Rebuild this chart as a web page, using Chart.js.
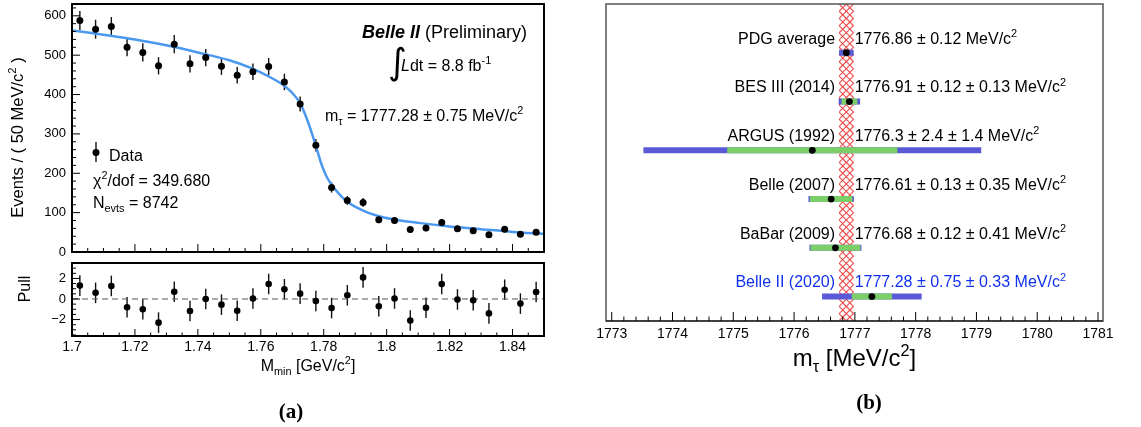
<!DOCTYPE html>
<html><head><meta charset="utf-8">
<script src="https://cdn.jsdelivr.net/npm/chart.js@4.4.0/dist/chart.umd.min.js"></script>
<style>
html,body{margin:0;padding:0;background:#fff;width:1141px;height:427px;overflow:hidden;}
canvas{position:absolute;}
</style></head><body>
<canvas id="cMain" width="560" height="258" style="left:0;top:0;width:560px;height:258px"></canvas>
<canvas id="cPull" width="560" height="169" style="left:0;top:258px;width:560px;height:169px"></canvas>
<canvas id="cRight" width="581" height="427" style="left:560px;top:0;width:581px;height:427px"></canvas>
<script>
// ---------- Data: panel (a) ----------
const binCenters = [1.7025,1.7075,1.7125,1.7175,1.7225,1.7275,1.7325,1.7375,1.7425,1.7475,
  1.7525,1.7575,1.7625,1.7675,1.7725,1.7775,1.7825,1.7875,1.7925,1.7975,
  1.8025,1.8075,1.8125,1.8175,1.8225,1.8275,1.8325,1.8375,1.8425,1.8475];
const counts = [588,566,573,520,507,473,528,478,494,472,449,458,471,432,376,271,164,131,126,82,
  80,57,61,75,59,54,44,58,45,50];
const countErr = [24,24,24,23,23,22,23,22,22,22,21,21,22,21,19,16,13,11,11,9,9,8,8,9,8,7,7,8,7,7];
const fitX = [1.700,1.710,1.720,1.730,1.740,1.750,1.757,1.762,1.767,1.770,1.7725,1.7745,1.7765,1.778,
  1.7795,1.781,1.783,1.787,1.792,1.797,1.802,1.810,1.820,1.830,1.840,1.850];
const fitY = [563,552,540,525,507,487,467,448,425,404,378,341,295,256,218,190,166,131,107,92,83,74,65,58,51,46];
const pulls = [1.3,0.6,1.27,-0.8,-1.0,-2.3,0.7,-1.17,0.0,-0.55,-1.14,0.05,1.46,0.94,0.52,-0.2,-0.88,0.36,2.1,-0.7,
  0.05,-2.1,-0.85,1.45,-0.05,-0.13,-1.4,0.9,-0.45,0.68];
const PULL_ERR = 1;
const mainYTicks = [0,100,200,300,400,500,600];
const pullYTicks = [-2,0,2];
const massTicks = [1.7,1.72,1.74,1.76,1.78,1.8,1.82,1.84];

// ---------- Data: panel (b) ----------
const names = ['PDG average','BES III (2014)','ARGUS (1992)','Belle (2007)','BaBar (2009)','Belle II (2020)'];
const values = [1776.86,1776.91,1776.3,1776.61,1776.68,1777.28];
const statErr = [0.12,0.12,2.4,0.13,0.12,0.75];
const systErr = [null,0.13,1.4,0.35,0.41,0.33];
const mtauTicks = [1773,1774,1775,1776,1777,1778,1779,1780,1781];

// ---------- helpers ----------
const FAM = '"Liberation Sans", Arial, Helvetica, sans-serif';
Chart.defaults.font.family = FAM;
Chart.defaults.color = '#000';
function rich(ctx, segs, x, y, size, align, color) {
  const parts = segs.map(([t, m]) => {
    let fs = size, dy = 0, style = '';
    if (m === 'sup') { fs = size * 0.68; dy = -size * 0.42; }
    if (m === 'sub') { fs = size * 0.68; dy = size * 0.24; }
    if (m === 'bi') style = 'italic bold ';
    if (m === 'i') style = 'italic ';
    const font = style + fs.toFixed(1) + 'px ' + FAM;
    ctx.font = font;
    return { t, font, dy, w: ctx.measureText(t).width };
  });
  const total = parts.reduce((a, p) => a + p.w, 0);
  let cx = align === 'right' ? x - total : align === 'center' ? x - total / 2 : x;
  ctx.fillStyle = color || '#000'; ctx.textBaseline = 'alphabetic'; ctx.textAlign = 'left';
  for (const p of parts) { ctx.font = p.font; ctx.fillText(p.t, cx, y + p.dy); cx += p.w; }
}
function line(ctx, x1, y1, x2, y2) { ctx.beginPath(); ctx.moveTo(x1, y1); ctx.lineTo(x2, y2); ctx.stroke(); }
const fmt = v => (v < 0 ? '\u2212' + Math.abs(v) : String(v));
const noPad = s => { s.paddingTop = 0; s.paddingBottom = 0; s.paddingLeft = 0; s.paddingRight = 0; };
const common = {
  responsive: false, animation: false, devicePixelRatio: 1, events: [],
  plugins: { legend: { display: false }, tooltip: { enabled: false } }
};

// ---------- Chart (a) main ----------
new Chart(document.getElementById('cMain'), {
  type: 'line',
  data: { datasets: [
    { data: binCenters.map((x, i) => ({ x, y: counts[i] })), showLine: false, pointRadius: 3.5,
      pointBackgroundColor: '#000', pointBorderWidth: 0, order: 1 },
    { data: fitX.map((x, i) => ({ x, y: fitY[i] })), borderColor: '#4a98ef', borderWidth: 2.5,
      pointRadius: 0, cubicInterpolationMode: 'monotone', order: 2 }
  ]},
  options: Object.assign({}, common, {
    layout: { padding: { left: 0, top: 1, right: 16, bottom: 6 } },
    scales: {
      x: { type: 'linear', min: 1.7, max: 1.85, display: false },
      y: { type: 'linear', min: 0, max: 630,
        afterFit: s => { s.width = 72; noPad(s); },
        afterBuildTicks: s => { s.ticks = mainYTicks.map(v => ({ value: v })); },
        ticks: { font: { size: 13 }, color: '#000', padding: 6, callback: v => fmt(v) },
        grid: { display: false, drawTicks: false }, border: { display: false } }
    }
  }),
  plugins: [{
    id: 'mainDeco',
    beforeDatasetsDraw(chart) {
      const ctx = chart.ctx, xs = chart.scales.x, ys = chart.scales.y;
      ctx.save(); ctx.strokeStyle = '#111'; ctx.lineWidth = 1.4;
      binCenters.forEach((x, i) => {
        const px = xs.getPixelForValue(x);
        line(ctx, px, ys.getPixelForValue(counts[i] - countErr[i]), px, ys.getPixelForValue(counts[i] + countErr[i]));
      });
      ctx.restore();
    },
    afterDraw(chart) {
      const ctx = chart.ctx, xs = chart.scales.x, ys = chart.scales.y;
      const { left, right, top, bottom } = chart.chartArea;
      ctx.save();
      ctx.strokeStyle = '#000'; ctx.lineWidth = 1;
      for (let k = 0; k <= 30; k++) { const px = xs.getPixelForValue(1.7 + k * 0.005); line(ctx, px, bottom, px, bottom - (k % 4 === 0 ? 8 : 4)); }
      for (let k = 0; k <= 31; k++) { const py = ys.getPixelForValue(k * 20); line(ctx, left, py, left + (k % 5 === 0 ? 8 : 4), py); }
      ctx.lineWidth = 2; ctx.strokeRect(left, top, right - left, bottom - top);
      // annotations
      rich(ctx, [['Belle II', 'bi'], [' (Preliminary)', '']], 362, 37.5, 18, 'left');
      ctx.font = '36px "DejaVu Sans", ' + FAM; ctx.fillStyle = '#000'; ctx.textAlign = 'left'; ctx.textBaseline = 'alphabetic';
      ctx.fillText('\u222B', 388, 74);
      rich(ctx, [['L', 'i'], ['dt = 8.8 fb', ''], ['-1', 'sup']], 401, 70.8, 16, 'left');
      rich(ctx, [['m', ''], ['\u03C4', 'sub'], [' = 1777.28 \u00B1 0.75 MeV/c', ''], ['2', 'sup']], 325, 120.8, 16, 'left');
      // legend
      ctx.strokeStyle = '#111'; ctx.lineWidth = 1.4; line(ctx, 96, 142, 96, 162);
      ctx.fillStyle = '#000'; ctx.beginPath(); ctx.arc(96, 152.5, 3.5, 0, Math.PI * 2); ctx.fill();
      rich(ctx, [['Data', '']], 109, 160.8, 16, 'left');
      rich(ctx, [['\u03C7', ''], ['2', 'sup'], ['/dof = 349.680', '']], 93, 185.8, 16, 'left');
      rich(ctx, [['N', ''], ['evts', 'sub'], [' = 8742', '']], 93, 207.8, 16, 'left');
      // y title
      ctx.save(); ctx.translate(17, 137.5); ctx.rotate(-Math.PI / 2);
      rich(ctx, [['Events / ( 50 MeV/c', ''], ['2', 'sup'], [' )', '']], 0, 6, 16.5, 'center');
      ctx.restore();
      ctx.restore();
    }
  }]
});

// ---------- Chart (a) pull ----------
new Chart(document.getElementById('cPull'), {
  type: 'line',
  data: { datasets: [
    { data: binCenters.map((x, i) => ({ x, y: pulls[i] })), showLine: false, pointRadius: 3.3,
      pointBackgroundColor: '#000', pointBorderWidth: 0, order: 1 },
    { data: [{ x: 1.7, y: 0 }, { x: 1.85, y: 0 }], borderColor: '#555', borderWidth: 1, borderDash: [6, 4],
      pointRadius: 0, order: 3 }
  ]},
  options: Object.assign({}, common, {
    layout: { padding: { left: 0, top: 5, right: 16, bottom: 0 } },
    scales: {
      x: { type: 'linear', min: 1.7, max: 1.85,
        afterFit: s => { s.height = 91; noPad(s); },
        afterBuildTicks: s => { s.ticks = massTicks.map(v => ({ value: v })); },
        ticks: { font: { size: 14 }, color: '#000', padding: 3, autoSkip: false, maxRotation: 0, callback: v => fmt(v) },
        grid: { display: false, drawTicks: false }, border: { display: false } },
      y: { type: 'linear', min: -3.6, max: 3.5,
        afterFit: s => { s.width = 72; noPad(s); },
        afterBuildTicks: s => { s.ticks = pullYTicks.map(v => ({ value: v })); },
        ticks: { font: { size: 13 }, color: '#000', padding: 6, callback: v => fmt(v) },
        grid: { display: false, drawTicks: false }, border: { display: false } }
    }
  }),
  plugins: [{
    id: 'pullDeco',
    beforeDatasetsDraw(chart) {
      const ctx = chart.ctx, xs = chart.scales.x, ys = chart.scales.y;
      ctx.save(); ctx.strokeStyle = '#111'; ctx.lineWidth = 1.4;
      binCenters.forEach((x, i) => {
        const px = xs.getPixelForValue(x);
        line(ctx, px, ys.getPixelForValue(pulls[i] - PULL_ERR), px, ys.getPixelForValue(pulls[i] + PULL_ERR));
      });
      ctx.restore();
    },
    afterDraw(chart) {
      const ctx = chart.ctx, xs = chart.scales.x, ys = chart.scales.y;
      const { left, right, top, bottom } = chart.chartArea;
      ctx.save(); ctx.strokeStyle = '#000'; ctx.lineWidth = 1;
      for (let k = 0; k <= 30; k++) { const px = xs.getPixelForValue(1.7 + k * 0.005); line(ctx, px, bottom, px, bottom - (k % 4 === 0 ? 7 : 3.5)); }
      for (let k = -7; k <= 7; k++) { const py = ys.getPixelForValue(k * 0.5); line(ctx, left, py, left + (k % 4 === 0 ? 8 : 4), py); }
      ctx.lineWidth = 2; ctx.strokeRect(left, top, right - left, bottom - top);
      ctx.save(); ctx.translate(24, 31); ctx.rotate(-Math.PI / 2);
      rich(ctx, [['Pull', '']], 0, 6, 16, 'center'); ctx.restore();
      rich(ctx, [['M', ''], ['min', 'sub'], [' [GeV/c', ''], ['2', 'sup'], [']', '']], (left + right) / 2, 112.7, 16, 'center');
      ctx.font = 'bold 21px "Liberation Serif", "Times New Roman", serif'; ctx.textAlign = 'center'; ctx.fillStyle = '#000';
      ctx.fillText('(a)', 291, 159.5);
      ctx.restore();
    }
  }]
});

// ---------- Chart (b) ----------
const BLUE = '#5a5ad8', GREEN = '#7ccf66', HATCH = '#f04848';
const totalErr = statErr.map((s, i) => systErr[i] == null ? s : Math.hypot(s, systErr[i]));
const rowDatasets = [];
names.forEach((n, i) => rowDatasets.push({ data: [{ x: values[i] - totalErr[i], y: i }, { x: values[i] + totalErr[i], y: i }],
  borderColor: BLUE, borderWidth: 6, borderCapStyle: 'butt', pointRadius: 0, order: 3 }));
names.forEach((n, i) => { if (systErr[i] != null) rowDatasets.push({ data: [{ x: values[i] - systErr[i], y: i }, { x: values[i] + systErr[i], y: i }],
  borderColor: GREEN, borderWidth: 6, borderCapStyle: 'butt', pointRadius: 0, order: 2 }); });
rowDatasets.push({ data: values.map((v, i) => ({ x: v, y: i })), showLine: false, pointRadius: 3.4,
  pointBackgroundColor: '#000', pointBorderWidth: 0, order: 1 });

new Chart(document.getElementById('cRight'), {
  type: 'line',
  data: { datasets: rowDatasets },
  options: Object.assign({}, common, {
    layout: { padding: { left: 46, top: 4, right: 38, bottom: 0 } },
    scales: {
      x: { type: 'linear', min: 1772.906, max: 1781.082,
        afterFit: s => { s.height = 106; noPad(s); },
        afterBuildTicks: s => { s.ticks = mtauTicks.map(v => ({ value: v })); },
        ticks: { font: { size: 14 }, color: '#000', padding: 5, autoSkip: false, maxRotation: 0, callback: v => String(v) },
        grid: { display: false, drawTicks: false }, border: { display: false } },
      y: { type: 'linear', min: -1, max: 5.5, reverse: true, display: false }
    }
  }),
  plugins: [{
    id: 'rightDeco',
    beforeDatasetsDraw(chart) {
      const ctx = chart.ctx, xs = chart.scales.x;
      const { top, bottom } = chart.chartArea;
      const x1 = xs.getPixelForValue(values[0] - statErr[0]), x2 = xs.getPixelForValue(values[0] + statErr[0]);
      ctx.save(); ctx.beginPath(); ctx.rect(x1, top, x2 - x1, bottom - top); ctx.clip();
      ctx.strokeStyle = HATCH; ctx.lineWidth = 1.1;
      const H = bottom - top, step = 7.2;
      for (let k = -60; k <= 60; k++) {
        const c = x1 + k * step;
        line(ctx, c, top, c + H, bottom);
        line(ctx, c, top, c - H, bottom);
      }
      ctx.restore();
    },
    afterDraw(chart) {
      const ctx = chart.ctx, xs = chart.scales.x, ys = chart.scales.y;
      const { left, right, top, bottom } = chart.chartArea;
      ctx.save();
      ctx.strokeStyle = '#555'; ctx.lineWidth = 1.5; ctx.strokeRect(left, top, right - left, bottom - top);
      ctx.strokeStyle = '#000'; ctx.lineWidth = 1; line(ctx, left, bottom, right, bottom);
      for (let k = 0; k <= 40; k++) { const px = xs.getPixelForValue(1773 + k * 0.2); line(ctx, px, bottom, px, bottom - (k % 5 === 0 ? 9 : 4.5)); }
      const nameX = xs.getPixelForValue(values[0] - statErr[0]) - 4;
      const valX = xs.getPixelForValue(values[0] + statErr[0]) + 1;
      names.forEach((n, i) => {
        const col = i === names.length - 1 ? '#1030f0' : '#000';
        const by = ys.getPixelForValue(i) - 9.2;
        rich(ctx, [[n, '']], nameX, by, 16, 'right', col);
        let s = values[i] + ' \u00B1 ' + statErr[i];
        if (systErr[i] != null) s += ' \u00B1 ' + systErr[i];
        rich(ctx, [[s + ' MeV/c', ''], ['2', 'sup']], valX, by, 16, 'left', col);
      });
      rich(ctx, [['m', ''], ['\u03C4', 'sub'], [' [MeV/c', ''], ['2', 'sup'], [']', '']], (left + right) / 2, 366, 24, 'center');
      ctx.font = 'bold 21px "Liberation Serif", "Times New Roman", serif'; ctx.textAlign = 'center'; ctx.fillStyle = '#000';
      ctx.fillText('(b)', 309, 409);
      ctx.restore();
    }
  }]
});
</script>
</body></html>
